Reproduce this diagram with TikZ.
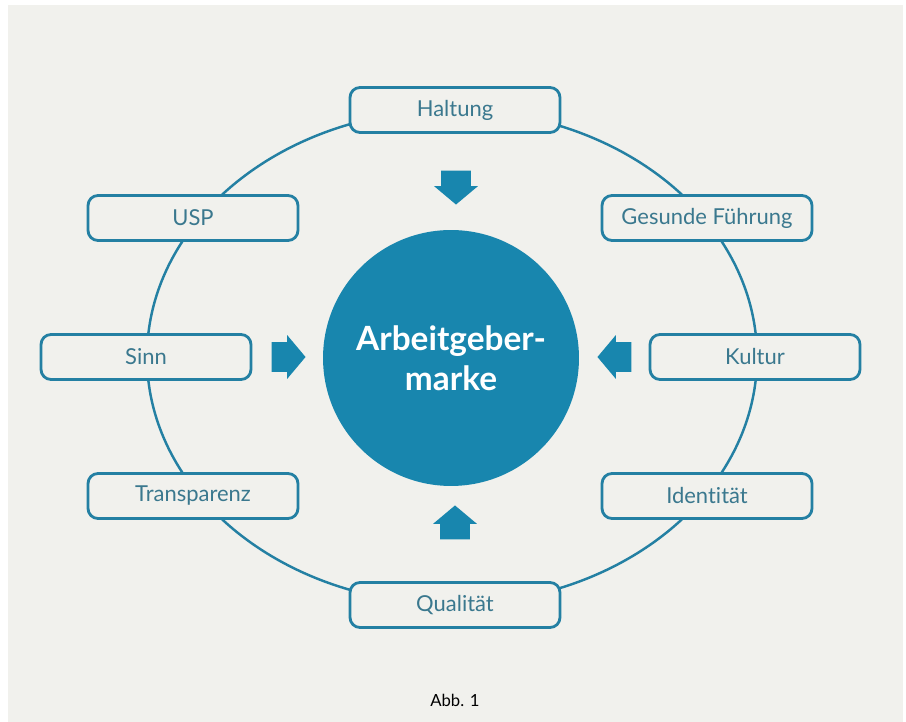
\documentclass[tikz,border=0pt]{standalone}
\usepackage{fontspec}
\setmainfont{Lato}[Ligatures=NoCommon]
\usepackage{tikz}
\usetikzlibrary{shapes,arrows}
\definecolor{hintergrund}{RGB}{241,241,237}
\definecolor{markenblau}{RGB}{24,134,174}
\definecolor{kastenrand}{RGB}{36,128,163}
\definecolor{kastentext}{RGB}{58,120,142}
\tikzstyle{merkmal} = [rectangle, draw=kastenrand, line width=1.6pt, fill=hintergrund, 
    text=kastentext, rounded corners=0.2cm, minimum width=4.2cm, minimum height=0.9cm,
    font=\fontsize{12.5}{15}\selectfont]
\tikzstyle{marke} = [circle, fill=markenblau, text=white, minimum size=5.12cm, 
    align=center, font=\fontsize{19}{23}\selectfont\bfseries]
\tikzstyle{pfeil} = [single arrow, fill=markenblau, minimum height=0.68cm,
    single arrow head extend=0.14cm, single arrow tip angle=100,
    inner xsep=0pt, inner ysep=0.29cm, anchor=tip]

\begin{document}
\begin{tikzpicture}[x=0.02cm, y=-0.02cm]
    % Background
    \useasboundingbox (0,0) rectangle (906,722);
    \fill [hintergrund] (8,5) rectangle (903,722);

    % Ring
    \path [draw, kastenrand, line width=1.4pt] (452,357) ellipse [x radius=305, y radius=247];

    % Place nodes
    \node [marke, at={(451,358)}] (marke) {Arbeitgeber-\\marke};

    \node [merkmal, at={(455,110)}] (haltung) {Haltung};
    \node [merkmal, at={(193,218)}] (usp) {USP};
    \node [merkmal, at={(707,218)}] (fuehrung) {Gesunde Führung};
    \node [merkmal, at={(146,357)}] (sinn) {Sinn};
    \node [merkmal, at={(755,357)}] (kultur) {Kultur};
    \node [merkmal, at={(193,496)}] (transparenz) {Transparenz};
    \node [merkmal, at={(707,496)}] (identitaet) {Identität};
    \node [merkmal, at={(455,605)}] (qualitaet) {Qualität};

    % Block arrows towards the centre
    \node [pfeil, rotate=-90, at={(456,205)}] (pfeiloben) {};
    \node [pfeil, at={(306,357)}] (pfeillinks) {};
    \node [pfeil, rotate=180, at={(597,357)}] (pfeilrechts) {};
    \node [pfeil, rotate=90, at={(455,505)}] (pfeilunten) {};

    % Caption
    \node [at={(455,700)}, font=\fontsize{9.5}{11}\selectfont] (abb) {Abb. 1};
\end{tikzpicture}
\end{document}
